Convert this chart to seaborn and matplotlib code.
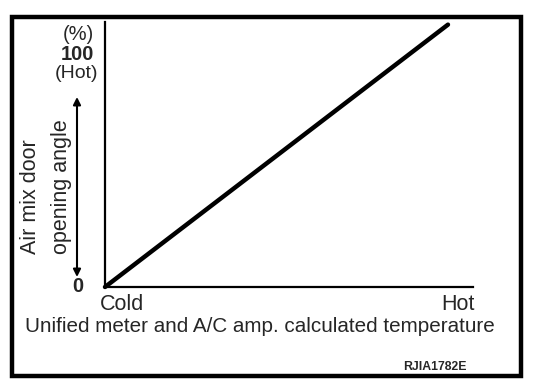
import matplotlib
matplotlib.use("Agg")
import matplotlib.pyplot as plt
import seaborn as sns
import pandas as pd
from matplotlib.patches import Rectangle

# ---- data ----
temperature = [0.0, 0.932]          # relative position along temperature axis (Cold -> Hot)
opening_angle = [0, 100]            # air mix door opening angle (%)
x_tick_pos = [0.045, 0.96]
x_tick_labels = ["Cold", "Hot"]

sns.set_theme(style="white")
plt.rcParams["font.family"] = ["Liberation Sans", "DejaVu Sans"]

W, H = 560, 392
fig = plt.figure(figsize=(W / 100, H / 100), dpi=100)

def fx(x):
    return x / W

def fy(y):
    return 1 - y / H

ax_l, ax_r, ax_t, ax_b = 105, 473, 22, 287
ax = fig.add_axes([fx(ax_l), fy(ax_b), (ax_r - ax_l) / W, (ax_b - ax_t) / H])

df = pd.DataFrame({"temp": temperature, "angle": opening_angle})
sns.lineplot(data=df, x="temp", y="angle", ax=ax, color="black", linewidth=3.2,
             solid_capstyle="round")
for ln in ax.lines:
    ln.set_clip_on(False)

ax.set_xlim(0, 1)
ax.set_ylim(0, 101)
ax.set_xlabel("")
ax.set_ylabel("")
ax.set_yticks([])
ax.set_xticks(x_tick_pos)
ax.set_xticklabels(x_tick_labels, fontsize=15.5)
ax.tick_params(axis="x", length=0, pad=5)
for s in ["top", "right"]:
    ax.spines[s].set_visible(False)
for s in ["left", "bottom"]:
    ax.spines[s].set_color("black")
    ax.spines[s].set_linewidth(1.6)
ax.patch.set_alpha(0)

# outer border
fig.patches.append(Rectangle((fx(12), fy(376)), (521 - 12) / W, (376 - 17) / H,
                             transform=fig.transFigure, fill=False,
                             edgecolor="black", linewidth=3.2))

# y-side annotations
fig.text(fx(78), fy(35), "(%)", fontsize=14.5, ha="center", va="center")
fig.text(fx(77), fy(54), "100", fontsize=14.5, fontweight="bold", ha="center", va="center")
fig.text(fx(76), fy(73), "(Hot)", fontsize=14, ha="center", va="center")
fig.text(fx(78), fy(287), "0", fontsize=14.5, fontweight="bold", ha="center", va="center")

fig.text(fx(30), fy(254), "Air mix door", fontsize=15.5, rotation=90,
         ha="center", va="bottom")
fig.text(fx(61), fy(254), "opening angle", fontsize=15.5, rotation=90,
         ha="center", va="bottom")

fig.add_artist(matplotlib.patches.FancyArrowPatch(
    (fx(77), fy(277)), (fx(77), fy(97)), transform=fig.transFigure,
    arrowstyle="<|-|>", mutation_scale=11, color="black", linewidth=1.5,
    shrinkA=0, shrinkB=0))

fig.text(fx(260), fy(327), "Unified meter and A/C amp. calculated temperature",
         fontsize=14.9, ha="center", va="center")
fig.text(fx(435), fy(367), "RJIA1782E", fontsize=8.8, fontweight="bold",
         ha="center", va="center")

fig.savefig("out.png", dpi=100, facecolor="white")
